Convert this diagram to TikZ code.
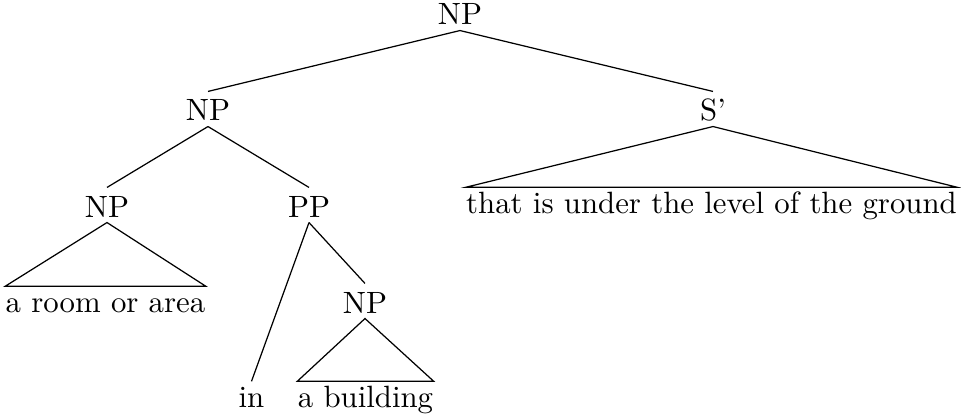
\documentclass[tikz,border=0pt]{standalone}
\begin{document}
\begin{tikzpicture}[x=0.3247pt,y=-0.3247pt,
  cat/.style={anchor=base,inner xsep=0pt,inner ysep=1.6pt,text height=7.8pt,text depth=0pt},
  leaf/.style={anchor=base,inner sep=0pt,text height=8.3pt,text depth=0pt},
  edge/.style={draw,line width=0.4pt}]
\useasboundingbox (0,0) rectangle (961,415);
% category labels
\node[cat] (np0) at (460,25) {NP};
\node[cat] (np1) at (208,121) {NP};
\node[cat] (sbar) at (713,121) {S'};
\node[cat] (np2) at (107,217) {NP};
\node[cat] (pp) at (309,217) {PP};
\node[cat] (np3) at (365,313) {NP};
% leaves
\node[leaf] (wa) at (105.5,312.5) {a room or area};
\node[leaf] (win) at (251.5,407.5) {in};
\node[leaf] (wb) at (365.5,407.5) {a building};
\node[leaf] (wc) at (711.5,213.5) {that is under the level of the ground};
% branches
\draw[edge] (np0.south) -- (np1.north);
\draw[edge] (np0.south) -- (sbar.north);
\draw[edge] (np1.south) -- (np2.north);
\draw[edge] (np1.south) -- (pp.north);
\draw[edge] (pp.south) -- (win.north);
\draw[edge] (pp.south) -- (np3.north);
% roofs over unanalysed constituents
\draw[edge] (np2.south) -- (wa.north west) -- (wa.north east) -- cycle;
\draw[edge] (np3.south) -- (wb.north west) -- (wb.north east) -- cycle;
\draw[edge] (sbar.south) -- (wc.north west) -- (wc.north east) -- cycle;
\end{tikzpicture}
\end{document}
